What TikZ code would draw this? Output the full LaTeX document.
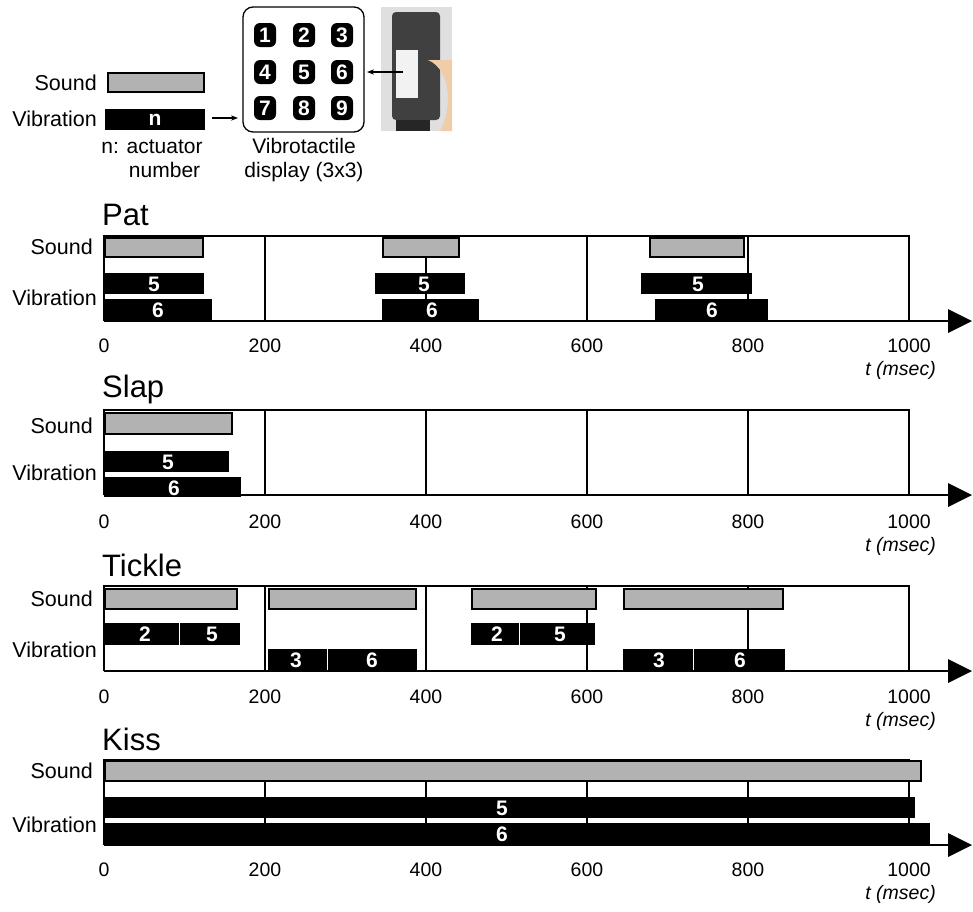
\documentclass[tikz,border=0pt]{standalone}
\usepackage{fontspec}
\setmainfont{Liberation Sans}
\usetikzlibrary{arrows.meta}
\begin{document}
\begin{tikzpicture}[x=1pt,y=-1pt,
 lab/.style={font=\fontsize{21.5}{23}\selectfont,anchor=east,inner sep=0},
 tit/.style={font=\fontsize{31}{33}\selectfont,anchor=west,inner sep=0},
 tick/.style={font=\fontsize{19.5}{21}\selectfont,inner sep=0},
 snd/.style={draw=black,line width=2.2pt,fill=gray!60},
 vib/.style={fill=black},
 vnum/.style={text=white,font=\bfseries\fontsize{21}{22}\selectfont,inner sep=0},
 key/.style={fill=black,rounded corners=6pt,minimum width=22pt,minimum height=24pt,text=white,font=\bfseries\fontsize{21}{21}\selectfont,inner sep=0},
 grid/.style={line width=1.5pt},
 ax/.style={line width=1.8pt}]
\useasboundingbox (0,0) rectangle (973,911);
% legend
\node[lab] (ls) at (97,83) {Sound};
\draw[snd] (108,73) rectangle (204,92);
\node[lab] (lv) at (97,119) {Vibration};
\fill[vib] (105,109) rectangle (205,130);
\node[vnum] (ln) at (155,120) {n};
\node[font=\fontsize{21}{24}\selectfont,align=center,inner sep=0] (la) at (152,159) {n: actuator\\\hspace*{1.2em}number};
\draw[rounded corners=10pt,line width=1.3pt] (243,7) rectangle (364,132);
\node[key] (k1) at (265,35) {1};\node[key] (k2) at (304,35) {2};\node[key] (k3) at (342,35) {3};
\node[key] (k4) at (265,72) {4};\node[key] (k5) at (304,72) {5};\node[key] (k6) at (342,72) {6};
\node[key] (k7) at (265,108) {7};\node[key] (k8) at (304,108) {8};\node[key] (k9) at (342,108) {9};
\node[font=\fontsize{21}{24}\selectfont,align=center,inner sep=0] (ld) at (304,160) {Vibrotactile\\display (3x3)};
\coordinate (a1) at (212,118); \coordinate (a2) at (238,118);
\draw[-{Stealth[length=7pt]},line width=1.2pt] (a1) -- (a2);
% photo
\fill[gray!25] (381,7) rectangle (452,131);
\fill[black!75,rounded corners=4pt] (392,12) rectangle (440,120);
\fill[black!85] (396,120) rectangle (430,131);
\fill[gray!10] (396,50) rectangle (418,98);
\fill[orange!40!brown!40] (428,60) .. controls (452,70) and (452,110) .. (440,131) -- (452,131) -- (452,60) -- cycle;
\coordinate (p1) at (403,72); \coordinate (p2) at (367,72);
\draw[-{Stealth[length=7pt]},line width=1.2pt] (p1) -- (p2);
% panels
\foreach \top/\name/\sy/\vy/\ly in {236/Pat/247/298/346, 410/Slap/426/473/522, 586/Tickle/599/650/697, 760/Kiss/771/825/870}{
 \pgfmathsetmacro{\bot}{\top+85}
 \node[tit] at (102,\top-21) {\name};
 \node[lab] at (93,\sy) {Sound};
 \node[lab] at (97,\vy) {Vibration};
 \foreach \gx in {265,426,587,748}{\draw[grid] (\gx,\top) -- (\gx,\bot);}
 \draw[line width=1.5pt] (104,\bot) -- (104,\top) -- (909,\top) -- (909,\bot);
 \draw[ax] (104,\bot) -- (950,\bot);
 \fill (948,\bot-12) -- (972,\bot) -- (948,\bot+12) -- cycle;
 \foreach \gx/\t in {104/0,265/200,426/400,587/600,748/800,909/1000}{\node[tick] at (\gx,\ly) {\t};}
 \node[tick,anchor=east,font=\itshape\fontsize{19.5}{21}\selectfont] at (936,\ly+24) {t (msec)};
}
% Pat
\draw[snd] (105,238) rectangle (203,257); \draw[snd] (383,238) rectangle (459,257); \draw[snd] (650,238) rectangle (744,257);
\fill[vib] (104,273) rectangle (204,294); \node[vnum] at (154,284) {5};
\fill[vib] (104,299) rectangle (212,320); \node[vnum] at (158,310) {6};
\fill[vib] (375,273) rectangle (465,294); \node[vnum] at (424,284) {5};
\fill[vib] (382,299) rectangle (479,320); \node[vnum] at (432,310) {6};
\fill[vib] (641,273) rectangle (752,294); \node[vnum] at (698,284) {5};
\fill[vib] (655,299) rectangle (768,320); \node[vnum] at (712,310) {6};
% Slap
\draw[snd] (105,413) rectangle (232,434);
\fill[vib] (104,451) rectangle (229,472); \node[vnum] at (168,462) {5};
\fill[vib] (104,477) rectangle (241,497); \node[vnum] at (174,488) {6};
% Tickle
\draw[snd] (105,589) rectangle (237,609); \draw[snd] (269,589) rectangle (416,609);
\draw[snd] (472,589) rectangle (596,609); \draw[snd] (624,589) rectangle (783,609);
\fill[vib] (104,623) rectangle (240,645); \draw[white,line width=0.8pt] (179,623) -- (179,645);
\node[vnum] at (145,634) {2}; \node[vnum] at (212,634) {5};
\fill[vib] (471,623) rectangle (595,645); \draw[white,line width=0.8pt] (519,623) -- (519,645);
\node[vnum] at (497,634) {2}; \node[vnum] at (560,634) {5};
\fill[vib] (268,649) rectangle (417,670); \draw[white,line width=0.8pt] (327,649) -- (327,670);
\node[vnum] at (296,660) {3}; \node[vnum] at (372,660) {6};
\fill[vib] (623,649) rectangle (785,670); \draw[white,line width=0.8pt] (693,649) -- (693,670);
\node[vnum] at (659,660) {3}; \node[vnum] at (740,660) {6};
% Kiss
\draw[snd] (105,761) rectangle (921,781);
\fill[vib] (104,797) rectangle (915,818); \node[vnum] at (502,808) {5};
\fill[vib] (104,823) rectangle (930,845); \node[vnum] at (502,834) {6};
\end{tikzpicture}
\end{document}
